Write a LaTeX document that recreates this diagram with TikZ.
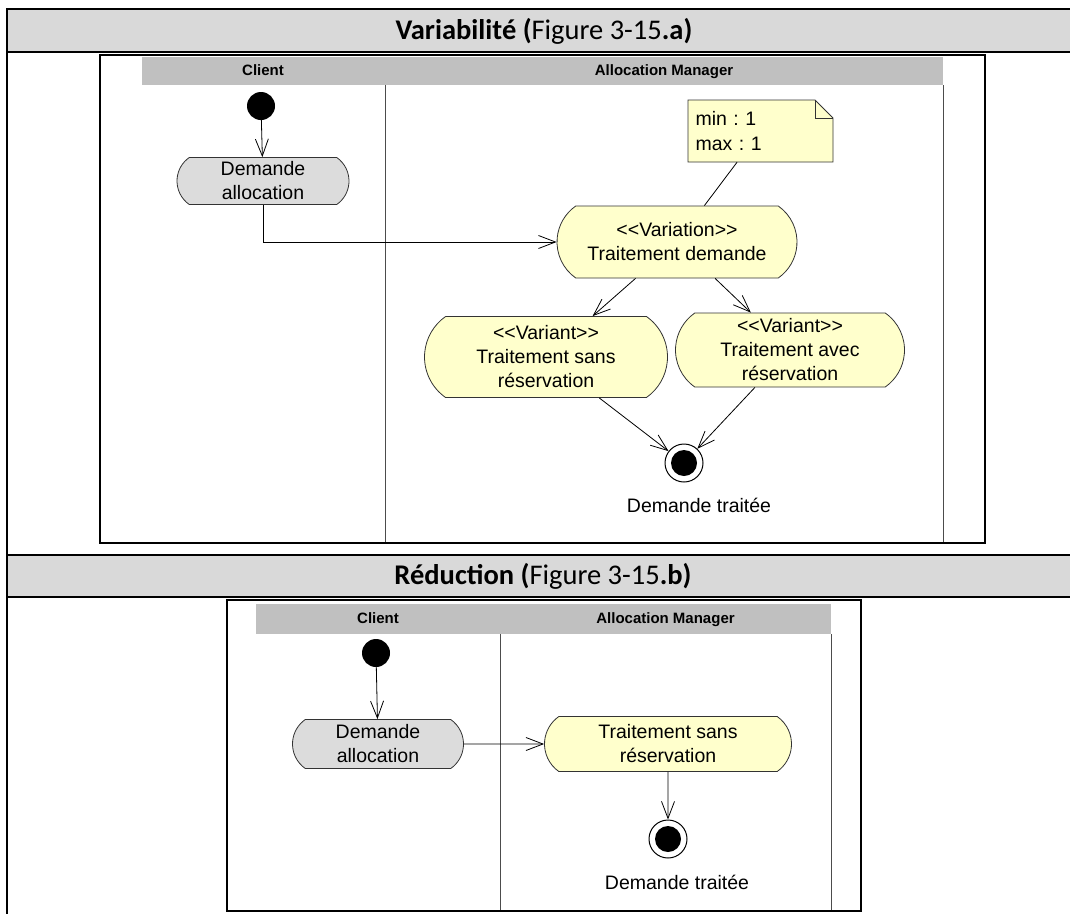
\documentclass[tikz,border=0pt]{standalone}
\usepackage{fontspec}
\setmainfont{Liberation Sans}
\newfontfamily\titlefont{Carlito}
\usetikzlibrary{arrows.meta, shapes.misc, calc}
\definecolor{rowgray}{RGB}{217,217,217}
\definecolor{lanegray}{RGB}{192,192,192}
\definecolor{actgray}{RGB}{220,220,220}
\definecolor{actyellow}{RGB}{255,255,204}
\frenchspacing

\tikzset{
  action/.style={rounded rectangle, rounded rectangle arc length=110, draw=black!80, line width=0.8pt, fill=actyellow, align=center, inner sep=0pt, font=\fontsize{19.5}{24}\selectfont},
  initial/.style={circle, fill=black, minimum size=28pt, inner sep=0pt},
  final/.style={circle, draw, fill=white, line width=1pt, minimum size=38pt, inner sep=0pt, path picture={\fill[black] (path picture bounding box.center) circle (13pt);}},
  flow/.style={line width=0.8pt, -{Straight Barb[length=17pt,width=13pt]}},
  lanehead/.style={font=\fontsize{15}{17}\selectfont\bfseries, text height=11pt, text depth=3pt},
  label/.style={font=\fontsize{19.5}{24}\selectfont},
  frame/.style={line width=2pt, draw=black},
  lane/.style={draw=black!70, line width=1pt},
  title/.style={font=\titlefont\fontsize{28.5}{32}\selectfont},
}

\begin{document}
\begin{tikzpicture}[x=1pt, y=-1pt]
  \useasboundingbox (0,0) rectangle (1070,913);
  \clip (0,0) rectangle (1070,913);

  % Table rows
  \fill[rowgray] (7,9) rectangle (1080,52);
  \fill[rowgray] (7,555) rectangle (1080,597);
  \draw[line width=2pt] (1080,9) -- (7,9) -- (7,920);
  \foreach \y in {52,555,597}
    \draw[line width=2pt] (7,\y) -- (1080,\y);
  \node[title] (title1) at (544,31) {\textbf{Variabilité (}Figure 3-15\textbf{.a)}};
  \node[title] (title2) at (543,576) {\textbf{Réduction (}Figure 3-15\textbf{.b)}};

  % Variabilite: swimlanes
  \fill[lanegray] (142,57) rectangle (943,85);
  \draw[lane] (385,85) -- (385,543);
  \draw[lane] (943,85) -- (943,543);
  \draw[frame] (100,55) rectangle (985,543);
  \node[lanehead] (client1) at (263,71) {Client};
  \node[lanehead] (manager1) at (664,71) {Allocation Manager};

  % Variabilite: activities
  \node[initial] (start1) at (261,106) {};
  \node[action, fill=actgray, minimum width=172pt, minimum height=47pt] (demande1) at (263,181) {Demande\\allocation};
  \filldraw[fill=actyellow, draw=black!80, line width=0.8pt] (688,100) -- (815,100) -- (833,118) -- (833,162) -- (688,162) -- cycle;
  \draw[black!80, line width=0.8pt] (815,100) -- (815,118) -- (833,118);
  \node[font=\fontsize{19.5}{25}\selectfont, align=left, text width=130pt, inner xsep=7.5pt, minimum height=62pt] (note) at (760.5,131) {min : 1\\max : 1};
  \node[action, minimum width=240pt, minimum height=72pt] (variation) at (677,242) {<{}<Variation>{}>\\Traitement demande};
  \node[action, minimum width=243pt, minimum height=81pt] (sans1) at (546,357) {<{}<Variant>{}>\\Traitement sans\\réservation};
  \node[action, minimum width=229pt, minimum height=74pt] (avec1) at (790,350) {<{}<Variant>{}>\\Traitement avec\\réservation};
  \node[final] (end1) at (684,463) {};
  \node[label] (done1) at (699,505) {Demande traitée};

  \draw[flow] (start1) -- (demande1);
  \draw[flow] (demande1.south) |- (variation.west);
  \draw[line width=0.8pt] (note) -- (variation);
  \draw[flow] (variation) -- (sans1);
  \draw[flow] (variation) -- (avec1);
  \draw[flow] (sans1) -- (end1);
  \draw[flow] (avec1) -- (end1);

  % Reduction: swimlanes
  \fill[lanegray] (256,604) rectangle (831,634);
  \draw[lane] (500,634) -- (500,911);
  \draw[lane] (831,634) -- (831,911);
  \draw[frame] (227,600) rectangle (861,911);
  \node[lanehead] (client2) at (378,619) {Client};
  \node[lanehead] (manager2) at (665.5,619) {Allocation Manager};

  % Reduction: activities
  \node[initial] (start2) at (376,653) {};
  \node[action, fill=actgray, minimum width=171pt, minimum height=49pt] (demande2) at (378,744) {Demande\\allocation};
  \node[action, minimum width=247pt, minimum height=55pt] (sans2) at (668,744) {Traitement sans\\réservation};
  \node[final] (end2) at (668,839) {};
  \node[label] (done2) at (677,882) {Demande traitée};

  \draw[flow] (start2) -- (demande2);
  \draw[flow] (demande2) -- (sans2);
  \draw[flow] (sans2) -- (end2);
\end{tikzpicture}
\end{document}
